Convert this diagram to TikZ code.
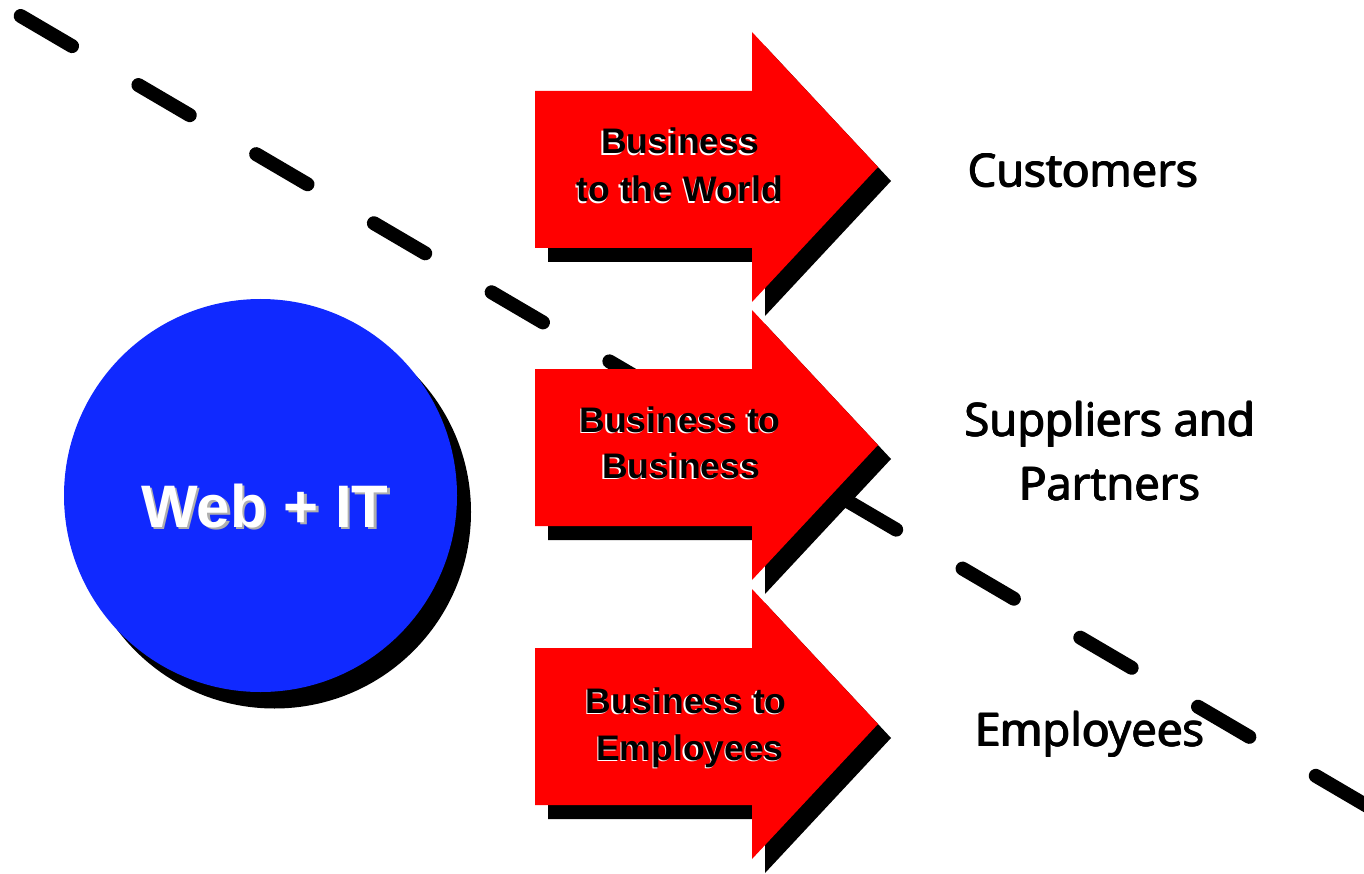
\documentclass[tikz,border=0pt]{standalone}
\usepackage{fontspec}
\setmainfont{Liberation Sans}
\newfontfamily\lblfont{Open Sans}
\usetikzlibrary{calc}
\definecolor{webblue}{RGB}{16,41,255}
\definecolor{arrowred}{RGB}{255,0,0}
\definecolor{webshadow}{RGB}{175,175,175}
\tikzset{
  dashline/.style={line width=14pt, line cap=round, dash pattern=on 59.5pt off 77pt},
  arrowtxt/.style={font=\bfseries\fontsize{35.5}{48}\selectfont, anchor=base, inner sep=0pt},
  webtxt/.style={font=\bfseries\fontsize{60}{70}\selectfont, anchor=base, inner sep=0pt},
  lbl/.style={font=\lblfont\fontsize{45.5}{64}\selectfont, anchor=base, inner sep=0pt},
  bigarrow/.pic={
    \fill[black] (13,-62) -- (230,-62) -- (230,-121) -- (356,14) -- (230,149) -- (230,95) -- (13,95) -- cycle;
    \fill[arrowred] (0,-76) -- (217,-76) -- (217,-135) -- (343,0) -- (217,135) -- (217,81) -- (0,81) -- cycle;
  }
}
\newcommand\shtext[3]{% name, position, text
  \node[arrowtxt, white] at ($(#2)+(-1.2,1.6)$) {#3};
  \node[arrowtxt] (#1) at (#2) {#3};
}
\newcommand\lbltext[3]{% name, position, text (thickened by overprinting)
  \foreach \dx/\dy in {-0.7/0, 0.7/0, 0/-0.5, 0/0.5}
    {\node[lbl] at ($(#2)+(\dx,\dy)$) {#3};}
  \node[lbl] (#1) at (#2) {#3};
}
\begin{document}
\begin{tikzpicture}[x=1pt,y=-1pt]
\useasboundingbox (0,0) rectangle (1364,874);
% dashed diagonal
\coordinate (ds) at (20.7,16);
\coordinate (de) at (1380,813.5);
\draw[dashline] (ds) -- (de);
% circle
\fill[black] (274.5,512) circle[radius=196.5];
\node[circle, fill=webblue, minimum size=393pt, inner sep=0pt] (web) at (260.5,495.5) {};
\node[webtxt, webshadow] at (267.5,529.5) {Web + IT};
\node[webtxt, white] (webtext) at (265,527) {Web + IT};
% arrows
\pic (a1) at (535,167) {bigarrow};
\pic (a2) at (535,445) {bigarrow};
\pic (a3) at (535,724) {bigarrow};
% arrow texts
\shtext{a1l1}{680,154}{Business}
\shtext{a1l2}{680,202}{to the World}
\shtext{a2l1}{680,432}{Business to}
\shtext{a2l2}{681,478}{Business}
\shtext{a3l1}{686,713}{Business to}
\shtext{a3l2}{690,760}{Employees}
% labels
\lbltext{cust}{1083,187}{Customers}
\lbltext{supp1}{1110,436}{Suppliers and}
\lbltext{supp2}{1110,500}{Partners}
\lbltext{empl}{1090,746}{Employees}
\end{tikzpicture}
\end{document}
